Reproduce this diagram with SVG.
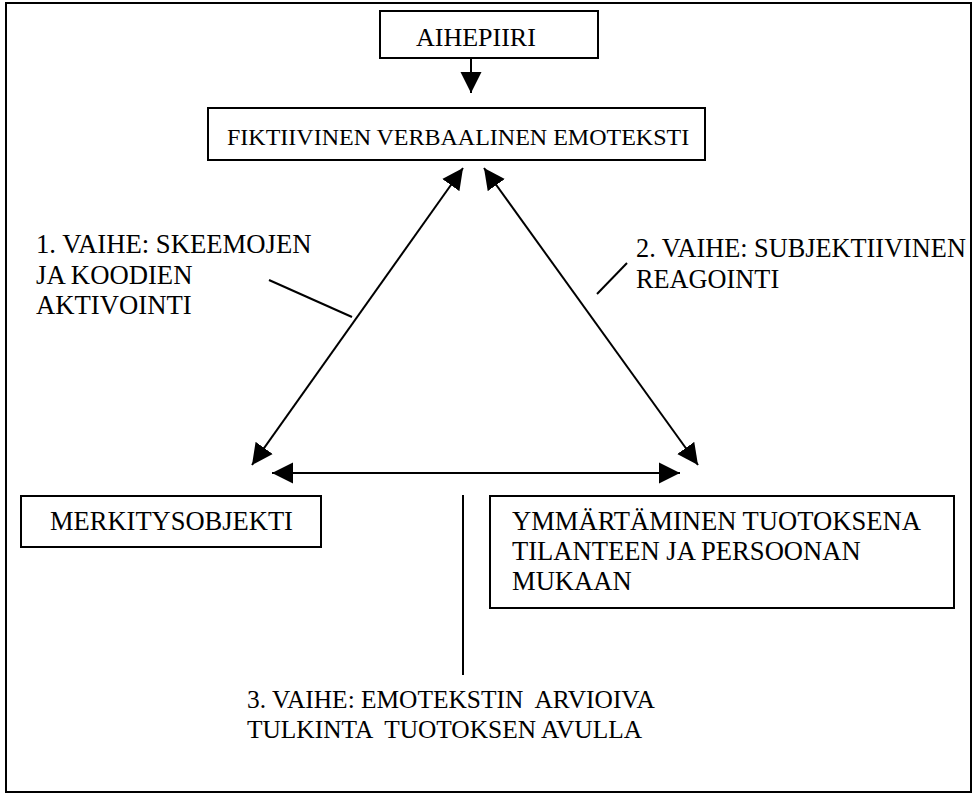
<svg xmlns="http://www.w3.org/2000/svg" width="976" height="795" viewBox="0 0 976 795">
<style>
.box{fill:#fff;stroke:#000;stroke-width:2}
.t{font-family:"Liberation Serif","Times New Roman",serif;font-size:26px;fill:#000;white-space:pre}
.c{stroke:#000;stroke-width:2;fill:none}
</style>
<defs>
<marker id="ah" markerUnits="userSpaceOnUse" markerWidth="22" markerHeight="22" viewBox="0 0 22 22" refX="21" refY="11" orient="auto-start-reverse">
<path d="M0,0.5 L21,11 L0,21.5 z" fill="#000"/>
</marker>
</defs>
<rect x="6" y="3" width="965" height="789" fill="#fff" stroke="#000" stroke-width="2"/>
<g id="aihepiiri">
<rect class="box" x="380" y="11" width="218" height="47"/>
<text class="t" x="416" y="46">AIHEPIIRI</text>
</g>
<g id="emoteksti">
<rect class="box" x="208" y="108" width="497" height="52"/>
<text class="t" x="227" y="145" style="font-size:24px">FIKTIIVINEN VERBAALINEN EMOTEKSTI</text>
</g>
<g id="merkitysobjekti">
<rect class="box" x="21" y="496" width="300" height="51"/>
<text class="t" x="50" y="530" style="font-size:26.5px">MERKITYSOBJEKTI</text>
</g>
<g id="ymmartaminen">
<rect class="box" x="490" y="496" width="464" height="112"/>
<text class="t" x="512" y="530" style="font-size:26.6px">YMMÄRTÄMINEN TUOTOKSENA</text>
<text class="t" x="512" y="560" style="font-size:26.6px">TILANTEEN JA PERSOONAN</text>
<text class="t" x="512" y="590" style="font-size:26.6px">MUKAAN</text>
</g>
<g id="vaihe1">
<text class="t" x="36" y="253" style="font-size:26.7px">1. VAIHE: SKEEMOJEN</text>
<text class="t" x="36" y="284" style="font-size:26.7px">JA KOODIEN</text>
<text class="t" x="36" y="314" style="font-size:26.7px">AKTIVOINTI</text>
</g>
<g id="vaihe2">
<text class="t" x="636" y="257" style="font-size:26.3px">2. VAIHE: SUBJEKTIIVINEN</text>
<text class="t" x="636" y="288" style="font-size:26.3px">REAGOINTI</text>
</g>
<g id="vaihe3">
<text class="t" x="247" y="708" style="font-size:25.4px">3. VAIHE: EMOTEKSTIN  ARVIOIVA</text>
<text class="t" x="247" y="738" style="font-size:25.4px">TULKINTA  TUOTOKSEN AVULLA</text>
</g>
<g id="connectors">
<line class="c" x1="471" y1="58" x2="471" y2="93" marker-end="url(#ah)"/>
<line class="c" x1="252" y1="465" x2="463" y2="168" marker-start="url(#ah)" marker-end="url(#ah)"/>
<line class="c" x1="484" y1="168" x2="698" y2="465" marker-start="url(#ah)" marker-end="url(#ah)"/>
<line class="c" x1="272" y1="473" x2="680" y2="473" marker-start="url(#ah)" marker-end="url(#ah)"/>
<line class="c" x1="269" y1="280" x2="352" y2="317"/>
<line class="c" x1="627" y1="263" x2="597" y2="294"/>
<line class="c" x1="463" y1="495" x2="463" y2="675"/>
</g>
</svg>
